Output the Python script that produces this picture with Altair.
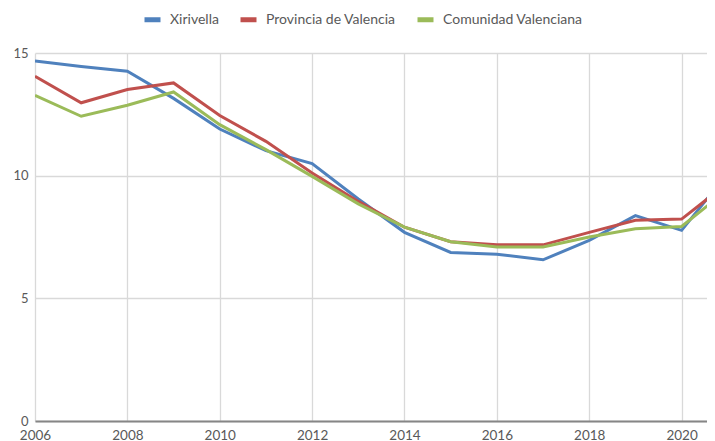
import altair as alt
import pandas as pd

years = list(range(2006, 2022))
xirivella = [14.67, 14.45, 14.26, 13.15, 11.9, 11.02, 10.49, 9.05, 7.69, 6.87, 6.8, 6.57, 7.36, 8.37, 7.77, 10.1]
provincia = [14.05, 12.97, 13.51, 13.78, 12.45, 11.4, 10.11, 8.95, 7.9, 7.31, 7.18, 7.18, 7.69, 8.18, 8.23, 9.7]
comunidad = [13.27, 12.42, 12.87, 13.41, 12.08, 11.06, 9.97, 8.85, 7.9, 7.31, 7.09, 7.09, 7.5, 7.84, 7.93, 9.44]
series = ["Xirivella", "Provincia de Valencia", "Comunidad Valenciana"]
colors = ["#4F81BD", "#C0504D", "#9BBB59"]
x_ticks = [2006, 2008, 2010, 2012, 2014, 2016, 2018, 2020]
y_ticks = [0, 5, 10, 15]

rows = []
for name, vals in zip(series, [xirivella, provincia, comunidad]):
    for y, v in zip(years, vals):
        rows.append({"year": y, "value": v, "serie": name})
df = pd.DataFrame(rows)

FONT = "Lato"

chart = alt.Chart(df).mark_line(strokeWidth=3, clip=True).encode(
    x=alt.X("year:Q",
            scale=alt.Scale(domain=[2006, 2020.55], nice=False, zero=False),
            axis=alt.Axis(values=x_ticks, format="d", title=None, grid=True,
                          gridColor="#d9d9d9", gridWidth=1.3, ticks=False,
                          domainColor="#868686", domainWidth=2,
                          labelColor="#595959", labelFont=FONT, labelFontSize=13.5,
                          labelPadding=7, labelFlush=False, labelBound=False,
                          labelOverlap=False)),
    y=alt.Y("value:Q",
            scale=alt.Scale(domain=[0, 15], nice=False),
            axis=alt.Axis(values=y_ticks, title=None, grid=True, gridColor="#d9d9d9",
                          gridWidth=1.3, ticks=False, domain=False,
                          labelColor="#595959", labelFont=FONT, labelFontSize=13,
                          labelPadding=7)),
    color=alt.Color("serie:N",
                    scale=alt.Scale(domain=series, range=colors),
                    sort=series,
                    legend=alt.Legend(title=None, orient="none", direction="horizontal",
                                      legendX=107, legendY=-44,
                                      symbolType="stroke", symbolSize=256,
                                      symbolStrokeWidth=5, labelFont=FONT,
                                      labelFontSize=14, labelColor="#595959",
                                      columnPadding=11, labelOffset=7)),
).properties(
    width=672, height=368,
    autosize=alt.AutoSizeParams(type="none"),
    padding={"left": 27, "top": 45, "right": 0, "bottom": 26},
).configure_view(stroke=None)

chart.save("out.html", embed_options={"renderer": "svg", "actions": False})
